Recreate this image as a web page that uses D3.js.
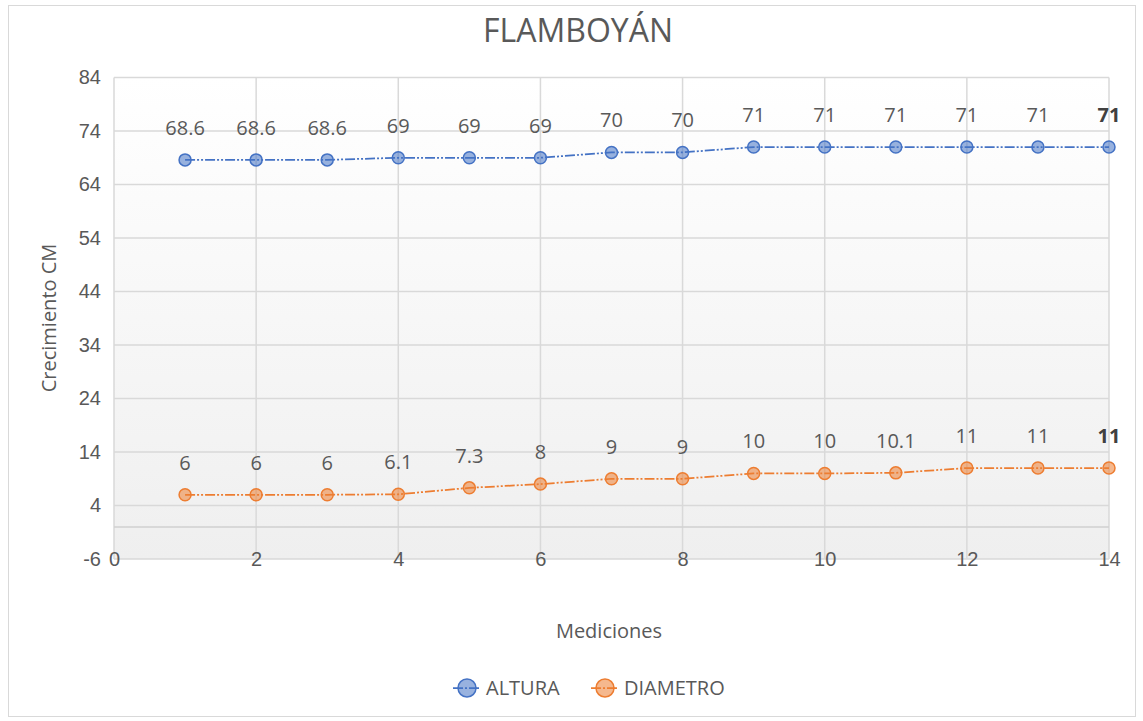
<!DOCTYPE html>
<html><head><meta charset="utf-8">
<script src="https://cdn.jsdelivr.net/npm/d3@7"></script>
<style>body{margin:0;background:#fff;}svg{display:block;font-family:"Open Sans","Noto Sans",sans-serif;}</style>
</head><body>
<svg id="c" width="1143" height="721"></svg>
<script>
const mediciones = [1,2,3,4,5,6,7,8,9,10,11,12,13,14];
const altura = [68.6,68.6,68.6,69,69,69,70,70,71,71,71,71,71,71];
const diametro = [6,6,6,6.1,7.3,8,9,9,10,10,10.1,11,11,11];
const yTicks = [-6,4,14,24,34,44,54,64,74,84];
const xTicks = [0,2,4,6,8,10,12,14];
const seriesNames = ["ALTURA","DIAMETRO"];
const colors = ["#4472C4","#ED7D31"];

const svg = d3.select("#c");
const L=114, R=1109, T=77.5, B=559;
const x = d3.scaleLinear().domain([0,14]).range([L,R]);
const y = d3.scaleLinear().domain([-6,84]).range([B,T]);

svg.append("rect").attr("x",8.5).attr("y",5.5).attr("width",1127).attr("height",711)
  .attr("fill","#fff").attr("stroke","#d9d9d9");

const defs = svg.append("defs");
const g = defs.append("linearGradient").attr("id","bg").attr("x1",0).attr("y1",0).attr("x2",0).attr("y2",1);
g.append("stop").attr("offset","0%").attr("stop-color","#ffffff");
g.append("stop").attr("offset","100%").attr("stop-color","#efefef");
svg.append("rect").attr("x",L).attr("y",T).attr("width",R-L).attr("height",B-T).attr("fill","url(#bg)");

// grid
svg.append("g").selectAll("line").data(yTicks).join("line")
  .attr("x1",L).attr("x2",R).attr("y1",d=>y(d)).attr("y2",d=>y(d))
  .attr("stroke","#d9d9d9").attr("stroke-width",1.5);
svg.append("g").selectAll("line").data(xTicks).join("line")
  .attr("x1",d=>x(d)).attr("x2",d=>x(d)).attr("y1",T).attr("y2",B)
  .attr("stroke","#d9d9d9").attr("stroke-width",1.5);
svg.append("line").attr("x1",L).attr("x2",R).attr("y1",y(0)).attr("y2",y(0)).attr("stroke","#d0d0d0").attr("stroke-width",1.5);

// axes labels
const fmt = d => String(d);
const yAxis = d3.axisLeft(y).tickValues(yTicks).tickFormat(fmt).tickSize(0).tickPadding(13);
const ya = svg.append("g").attr("transform",`translate(${L},0)`).call(yAxis);
ya.select(".domain").remove();
ya.selectAll("text").attr("fill","#595959").style("font-size","20px").style("font-family","inherit");
const xAxis = d3.axisBottom(x).tickValues(xTicks).tickFormat(fmt).tickSize(0);
const xa = svg.append("g").attr("transform",`translate(0,${B})`).call(xAxis);
xa.select(".domain").remove();
xa.selectAll("text").attr("fill","#595959").style("font-size","20px").style("font-family","inherit").attr("dy","0.35em").attr("y",0);

// series
const data = [altura, diametro];
const line = d3.line().x((d,i)=>x(mediciones[i])).y(d=>y(d));
data.forEach((vals,si)=>{
  const c = colors[si];
  svg.append("path").datum(vals).attr("d",line).attr("fill","none")
    .attr("stroke",c).attr("stroke-width",1.75).attr("stroke-dasharray","10,2,2,2,2,2");
  svg.append("g").selectAll("circle").data(vals).join("circle")
    .attr("cx",(d,i)=>x(mediciones[i])).attr("cy",d=>y(d)).attr("r",6)
    .attr("fill",c).attr("fill-opacity",0.55).attr("stroke",c).attr("stroke-width",1.5);
  svg.append("g").selectAll("text").data(vals).join("text")
    .attr("x",(d,i)=>x(mediciones[i])).attr("y",d=>y(d)-25)
    .attr("text-anchor","middle").attr("fill",(d,i)=>i===vals.length-1?"#404040":"#595959")
    .style("font-size","20px").style("font-weight",(d,i)=>i===vals.length-1?"bold":"normal")
    .text(d=>d);
});

// titles
svg.append("text").attr("x",578).attr("y",42).attr("text-anchor","middle")
  .attr("fill","#595959").style("font-size","32px").text("FLAMBOYÁN");
svg.append("text").attr("transform","translate(56,318) rotate(-90)").attr("text-anchor","middle")
  .attr("fill","#595959").style("font-size","20px").text("Crecimiento CM");
svg.append("text").attr("x",609).attr("y",638).attr("text-anchor","middle")
  .attr("fill","#595959").style("font-size","20px").text("Mediciones");

// legend
const leg = svg.append("g");
const lx = [467, 605];
seriesNames.forEach((n,i)=>{
  leg.append("line").attr("x1",lx[i]-14).attr("x2",lx[i]+14).attr("y1",688).attr("y2",688)
    .attr("stroke",colors[i]).attr("stroke-width",1.75).attr("stroke-dasharray","10,2,2,2");
  leg.append("circle").attr("cx",lx[i]).attr("cy",688).attr("r",9)
    .attr("fill",colors[i]).attr("fill-opacity",0.55).attr("stroke",colors[i]).attr("stroke-width",1.5);
  leg.append("text").attr("x",lx[i]+19).attr("y",695).attr("fill","#595959")
    .style("font-size","20px").text(n);
});
</script>
</body></html>
